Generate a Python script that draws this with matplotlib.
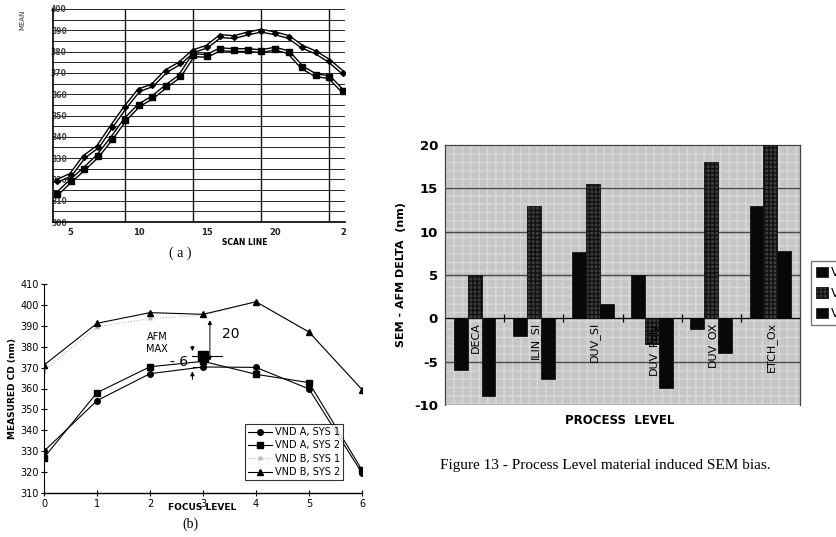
import matplotlib
matplotlib.use("Agg")
from matplotlib import pyplot as plt
import numpy as np

plt.rcParams["axes.unicode_minus"] = False

# (a) mean CD along the scan
scan_line = list(range(4, 26))
mean_cd_1 = [319.3, 322.2, 330.7, 335.4, 344.8, 353.8, 361.8, 364.2, 370.8, 374.5, 380.2,
             382.3, 387.3, 386.8, 388.5, 389.8, 388.6, 386.9, 382.3, 379.6, 375.6, 370.1]
mean_cd_2 = [313.2, 319.3, 325.0, 331.1, 339.2, 348.1, 354.7, 358.5, 363.7, 368.4, 378.3,
             378.0, 381.1, 380.7, 380.7, 380.2, 381.4, 379.7, 372.6, 368.9, 368.0, 361.3]
scan_ticks = [5, 10, 15, 20, 25]
scan_tick_labels = ["5", "10", "15", "20", "2"]
scan_grid = [9, 14, 19, 24]

# (b) measured CD vs focus level
focus = [0, 1, 2, 3, 4, 5, 6]
vnd_a_sys1 = [330.0, 354.2, 367.1, 370.3, 370.1, 359.8, 319.5]
vnd_a_sys2 = [326.9, 358.0, 370.4, 373.0, 366.8, 362.8, 321.0]
vnd_b_sys1 = [368.5, 389.5, 393.5, 395.0, 401.5, 387.0, 359.5]
vnd_b_sys2 = [371.2, 391.2, 396.3, 395.5, 401.5, 387.0, 359.5]
afm_max = (3, 375.5)

# Figure 13 - SEM bias by process level
levels = ["DECA", "ILIN_SI", "DUV_SI", "DUV_Poly", "DUV_OX", "ETCH_Ox"]
bias_1 = [-6, -2, 7.6, 5, -1.2, 13]
bias_2 = [5, 13, 15.5, -3, 18, 20]
bias_3 = [-9, -7, 1.7, -8, -4, 7.8]

fig = plt.figure(figsize=(8.36, 5.37), dpi=100)
W, H = 836, 537


def box(l, t, r, b):
    return [l / W, 1 - b / H, (r - l) / W, (b - t) / H]


# ---------- (a) ----------
ax1 = fig.add_axes(box(53, 9, 345, 222))
for y in np.arange(300, 401, 5):
    ax1.axhline(y, color="#222222", lw=0.7, zorder=1)
for x in scan_grid:
    ax1.axvline(x, color="#111111", lw=1.0, zorder=1)
for vals, mk, ms in [(mean_cd_1, "D", 3), (mean_cd_2, "s", 5)]:
    ax1.plot(scan_line, vals, color="k", lw=3.0, zorder=2, solid_capstyle="round")
    ax1.plot(scan_line, vals, color="white", lw=1.0, zorder=3)
    ax1.plot(scan_line, vals, color="k", lw=0, marker=mk, ms=ms, zorder=4)
ax1.set_xlim(3.7, 25.15)
ax1.set_ylim(300, 400)
ax1.set_yticks(range(300, 401, 10))
ax1.set_xticks(scan_ticks)
ax1.set_xticklabels(scan_tick_labels)
ax1.tick_params(axis="y", length=0, pad=-10, labelsize=5.5, labelcolor="#444444")
ax1.tick_params(axis="x", length=0, pad=4, labelsize=6, labelcolor="#222222")
for lab in ax1.get_xticklabels() + ax1.get_yticklabels():
    lab.set_fontweight("bold")
for s in ["top", "right"]:
    ax1.spines[s].set_visible(False)
ax1.spines["left"].set_linewidth(1.2)
ax1.spines["bottom"].set_linewidth(1.2)
ax1.set_facecolor("none")
fig.text(245 / W, 1 - 242 / H, "SCAN LINE", fontsize=5.5, fontweight="bold", ha="center", va="center")
fig.text(22 / W, 1 - 10 / H, "MEAN", fontsize=5, rotation=90, ha="center", va="top", color="#333333")
fig.text(180 / W, 1 - 253 / H, "( a )", fontsize=10, family="Liberation Serif", ha="center", va="center")

# ---------- (b) ----------
ax2 = fig.add_axes(box(44, 284, 362, 493))
ax2.plot(focus, vnd_a_sys1, color="k", lw=0.8, marker="o", ms=4, label="VND A, SYS 1", zorder=3)
ax2.plot(focus, vnd_a_sys2, color="k", lw=0.8, marker="s", ms=4, label="VND A, SYS 2", zorder=3)
ax2.plot(focus, vnd_b_sys1, color="#b5b5b5", lw=0.8, ls=":", marker="x", ms=3, label="VND B, SYS 1", zorder=2)
ax2.plot(focus, vnd_b_sys2, color="k", lw=0.8, marker="^", ms=4, label="VND B, SYS 2", zorder=3)
ax2.plot([afm_max[0]], [afm_max[1]], marker="s", ms=7, color="k", zorder=4)
ax2.plot([2.8, 3.35], [afm_max[1], afm_max[1]], color="k", lw=0.8)
ax2.plot([2.82, 3.0], [vnd_a_sys1[3], vnd_a_sys1[3]], color="k", lw=0.8)
ax2.annotate("", xy=(3.13, 372.0), xytext=(3.13, 394.0),
             arrowprops=dict(arrowstyle="<|-|>", lw=0.7, color="k", mutation_scale=6))
ax2.text(3.36, 386, "20", fontsize=10, ha="left", va="center")
ax2.annotate("", xy=(2.8, 376.5), xytext=(2.8, 381.5),
             arrowprops=dict(arrowstyle="-|>", lw=0.7, color="k", mutation_scale=6))
ax2.annotate("", xy=(2.8, 369.5), xytext=(2.8, 363.0),
             arrowprops=dict(arrowstyle="-|>", lw=0.7, color="k", mutation_scale=6))
ax2.text(2.72, 372.6, "- 6", fontsize=10, ha="right", va="center")
ax2.text(2.13, 384.5, "AFM", fontsize=7, ha="center", va="center")
ax2.text(2.13, 379.0, "MAX", fontsize=7, ha="center", va="center")
ax2.set_xlim(0, 6)
ax2.set_ylim(310, 410)
ax2.set_xticks(focus)
ax2.set_yticks(range(310, 411, 10))
ax2.tick_params(labelsize=7, length=4, direction="inout", width=0.8, pad=2)
for s in ["top", "right"]:
    ax2.spines[s].set_visible(False)
ax2.spines["left"].set_linewidth(0.8)
ax2.spines["bottom"].set_linewidth(1.0)
ax2.set_ylabel("MEASURED CD (nm)", fontsize=6.5, fontweight="bold", labelpad=2)
fig.text(202 / W, 1 - 507 / H, "FOCUS LEVEL", fontsize=6.5, fontweight="bold", ha="center", va="center")
leg = ax2.legend(loc="lower left", bbox_to_anchor=(240 / W, 1 - 485 / H), bbox_transform=fig.transFigure,
                 fontsize=7, frameon=True, fancybox=False, edgecolor="k", handlelength=2.5,
                 borderpad=0.3, labelspacing=0.35, handletextpad=0.3)
leg.get_frame().set_linewidth(0.8)
fig.text(190 / W, 1 - 524 / H, "(b)", fontsize=10, family="Liberation Serif", ha="center", va="center")

# ---------- Figure 13 ----------
ax3 = fig.add_axes(box(445, 145, 800, 405))
ax3.set_facecolor("#c6c6c6")
ax3.add_patch(plt.Rectangle((0, 0), 1, 1, transform=ax3.transAxes, facecolor="none",
                            edgecolor="#d8d8d8", hatch="++", lw=0, zorder=0))
idx = np.arange(len(levels))
bw = 0.235
ax3.bar(idx - bw, bias_1, bw, color="#080808", edgecolor="#080808", lw=0.5, zorder=3, label="V")
ax3.bar(idx, bias_2, bw, color="#3c3c3c", edgecolor="#111111", hatch="++++", lw=0.6, zorder=3, label="V")
ax3.bar(idx + bw, bias_3, bw, color="#080808", edgecolor="#080808", lw=0.5, zorder=3, label="V")
for y in [-5, 5, 10, 15]:
    ax3.axhline(y, color="#4a4a4a", lw=1.0, zorder=1)
ax3.axhline(-10, color="#333333", lw=1.0, zorder=1)
for i, name in enumerate(levels):
    ax3.text(i + 0.02, -0.4, name, rotation=90, fontsize=8, ha="center", va="top", zorder=4)
ax3.set_xlim(-0.5, 5.5)
ax3.set_ylim(-10, 20)
ax3.set_yticks(range(-10, 21, 5))
ax3.set_xticks(idx[:-1] + 0.5)
ax3.set_xticklabels([])
ax3.spines["bottom"].set_position(("data", 0))
ax3.spines["bottom"].set_linewidth(0.9)
ax3.spines["bottom"].set_zorder(2)
for s in ["top", "left", "right"]:
    ax3.spines[s].set_color("#444444")
    ax3.spines[s].set_linewidth(0.9)
ax3.tick_params(axis="x", direction="inout", length=6, width=0.9)
ax3.tick_params(axis="y", length=0, labelsize=9.5, pad=5)
for lab in ax3.get_yticklabels():
    lab.set_fontweight("bold")
ax3.set_ylabel("SEM - AFM DELTA  (nm)", fontsize=8, fontweight="bold", labelpad=6)
fig.text(620 / W, 1 - 420 / H, "PROCESS  LEVEL", fontsize=8.5, fontweight="bold", ha="center", va="center")
leg3 = ax3.legend(loc="upper left", bbox_to_anchor=(805 / W, 1 - 255 / H), bbox_transform=fig.transFigure,
                  fontsize=9, frameon=True, fancybox=False, edgecolor="#555555", handlelength=0.9,
                  handleheight=0.9, borderpad=0.4, labelspacing=0.6, handletextpad=0.3)
fig.text(605 / W, 1 - 465 / H, "Figure 13 - Process Level material induced SEM bias.",
         fontsize=11, family="Liberation Serif", ha="center", va="center")

fig.savefig("out.png", dpi=100)
